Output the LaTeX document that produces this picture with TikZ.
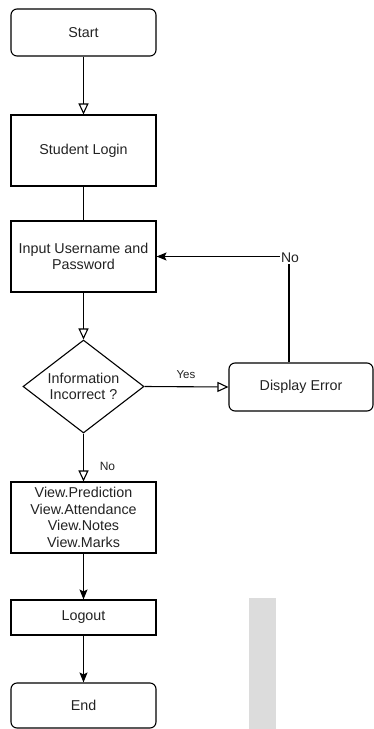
\documentclass[tikz,border=0pt]{standalone}
\usepackage{fontspec}
\setmainfont{Liberation Sans}
\usetikzlibrary{shapes.geometric,arrows.meta}
\definecolor{txt}{HTML}{222222}
\definecolor{greyfill}{HTML}{DCDCDC}
\begin{document}
\begin{tikzpicture}[x=1pt,y=-1pt,
  every node/.style={text=txt},
  boxbase/.style={draw=black,line width=1.1pt,minimum width=145pt,inner sep=1pt,align=center,
    font=\fontsize{14.3}{16.5}\selectfont},
  roundbox/.style={boxbase,rounded corners=6pt},
  squarebox/.style={boxbase},
  decision/.style={diamond,draw=black,line width=1.1pt,inner sep=0pt,aspect=1.3,
    minimum width=121pt,minimum height=93pt,align=center,font=\fontsize{14.3}{16.5}\selectfont},
  openarrow/.style={line width=1.1pt,-{Triangle[open,width=10pt,length=11pt]}},
  fillarrow/.style={line width=1.1pt,-{Stealth[width=8pt,length=10pt,inset=2pt]}},
  plainline/.style={line width=1.1pt},
  lbl/.style={fill=white,inner sep=1pt}
]
\useasboundingbox (0,0) rectangle (374,729);
\fill[greyfill] (249,598) rectangle (276,729);

\node[roundbox,minimum height=47pt] (start) at (83.5,32.5) {Start};
\node[squarebox,minimum height=71pt] (login) at (83.5,150.5) {Student Login};
\node[squarebox,minimum height=71pt] (inp) at (83.5,256.5) {Input Username and\\Password};
\node[decision] (dec) at (83.5,386.5) {Information\\Incorrect ?};
\node[roundbox,minimum width=144pt,minimum height=48pt] (err) at (301,387) {Display Error};
\node[squarebox,minimum height=71pt] (view) at (83.5,517.5) {View.Prediction\\View.Attendance\\View.Notes\\View.Marks};
\node[squarebox,minimum height=35pt] (logout) at (83.5,617.5) {Logout};
\node[roundbox,minimum height=45pt] (end) at (83.5,705.5) {End};

\draw[openarrow] (start) -- (login);
\draw[plainline] (login) -- (inp);
\draw[openarrow] (inp) -- (dec);
\draw[openarrow] (dec.east) -- (err.west);
\node[font=\fontsize{11.5}{13}\selectfont] (yes) at (186,375) {Yes};
\coordinate (corner) at (289,256.5);
\draw[fillarrow] (corner |- err.north) -- (corner) -- (inp.east);
\node[lbl,font=\fontsize{14}{16}\selectfont] (no1) at (290,258) {No};
\draw[openarrow] (dec.south) -- (view.north);
\node[font=\fontsize{12}{14}\selectfont] (no2) at (107.5,466.5) {No};
\draw[fillarrow] (view) -- (logout);
\draw[fillarrow] (logout) -- (end);
\end{tikzpicture}
\end{document}
